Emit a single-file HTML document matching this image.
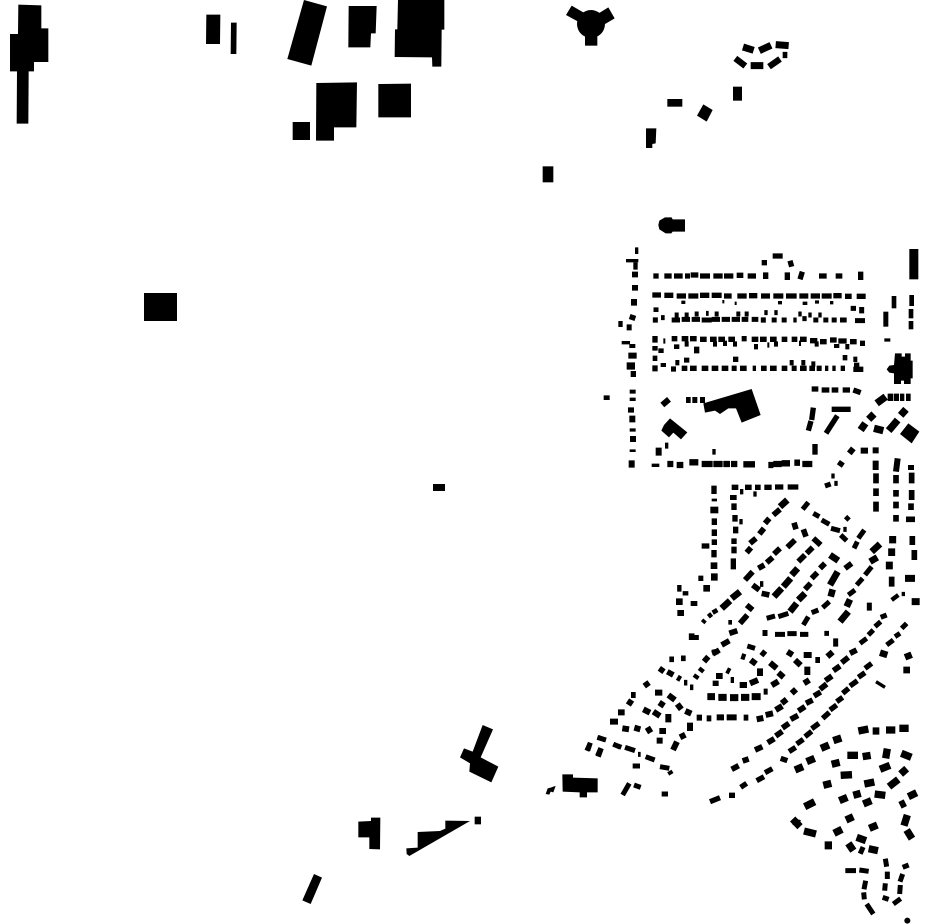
<!DOCTYPE html>
<html><head><meta charset="utf-8"><title>Figure-ground plan</title>
<style>html,body{margin:0;padding:0;background:#fff}svg{display:block}path{fill:none;stroke:#000}polygon,circle,rect{fill:#000;stroke:none}</style>
</head><body>
<svg width="930" height="924" viewBox="0 0 930 924" xmlns="http://www.w3.org/2000/svg">
<rect x="144" y="293" width="33" height="28"/><rect x="433" y="484" width="12" height="7"/>
<g transform="scale(.33333)">
<polygon points="55,14 124,16 124,85 145,85 145,186 102,186 102,214 86,214 85,371 50,371 51,214 30,214 30,102 54,102"/>
<polygon points="619,44 661,44 660,132 618,132"/><polygon points="693,68 710,68 709,162 692,162"/>
<polygon points="912,0 981,19 934,197 862,177"/>
<polygon points="1046,18 1130,18 1127,100 1113,100 1111,142 1045,142"/>
<polygon points="1194,0 1333,0 1333,89 1325,89 1324,200 1297,200 1296,172 1184,171 1185,88 1192,88"/>
<polygon points="949,249 1071,247 1069,382 1002,382 1002,422 948,422"/>
<polygon points="1135,252 1233,251 1233,352 1135,352"/><polygon points="878,366 930,366 930,420 878,420"/>
</g>
<g transform="translate(290 720) scale(.33333)">
<polygon points="578,15 609,28 572,112 625,140 604,187 538,155 540,130 510,112 522,85 548,95"/>
<polygon points="817,163 849,163 849,173 923,175 923,217 891,217 891,232 869,232 869,217 818,215"/>
<polygon points="767,222 773,205 782,203 790,200 797,198 790,217 782,215 778,224"/>
<polygon points="205,305 243,303 243,293 271,293 270,388 238,387 238,352 205,352"/>
<polygon points="349,385 383,383 383,336 450,333 466,326 466,302 540,303 358,408 350,402"/>
<polygon points="554,290 573,290 573,313 554,313"/><polygon points="72,462 96,473 62,552 37,541"/>
<path stroke-width="14" d="M890 92L900 70M925 52L945 60M970 72L990 82M922 108L932 84"/>
</g>
<g transform="translate(530 0) scale(.33333)">
<circle cx="183" cy="72" r="42"/><polygon points="125,17 165,40 150,68 108,45"/><polygon points="235,22 254,55 215,78 198,45"/><polygon points="165,100 202,100 202,137 165,137"/>
<polygon points="412,297 457,297 457,320 412,320"/><polygon points="520,313 548,330 530,365 501,347"/><polygon points="609,260 636,260 636,302 609,302"/>
<polygon points="348,385 379,385 377,430 367,432 367,444 348,444"/><polygon points="38,499 70,499 70,547 38,547"/>
<polygon points="405,652 425,652 428,658 465,658 465,695 428,695 424,700 407,700 388,688 385,675 388,662"/>
<path stroke-width="21" d="M639 141L671 151M688 152L723 136M737 134L776 137M662 197L700 197"/>
<path stroke-width="19" d="M616 175L646 198M717 200L750 177M758 165H772"/>
</g>
<g transform="translate(600 240) scale(.33333)">
<polygon points="310,490 455,447 482,525 425,548 408,505 385,505 360,522 345,512 315,518"/>
<polygon points="885,340 905,340 905,350 915,350 915,340 932,340 932,362 938,362 938,415 932,415 932,432 912,432 912,422 903,422 903,432 882,432 882,400 868,398 860,388 868,377 882,375"/>
<polygon points="210,535 262,577 243,598 220,578 207,592 184,572 192,555"/>
<polygon points="925,550 958,575 935,610 900,582"/>
<rect x="928" y="27" width="27" height="91"/><rect x="850" y="215" width="15" height="45"/><rect x="637" y="612" width="16" height="32"/>
<rect x="875" y="168" width="14" height="37"/><rect x="928" y="165" width="14" height="33"/><rect x="926" y="207" width="14" height="28"/><rect x="926" y="243" width="14" height="25"/>
<path stroke-width="10" d="M110 22V42M78 62H115M65 308H90M155 676H178M342 627V644M853 300H871M233 108H233"/>
<path stroke-width="18" d="M105 95V112M105 135V152M102 177V197M100 225L95 240M55 252H68M80 262H95M97 312V324M85 347H110M92 402H108M98 449V461M98 473V483M93 502V518M97 527V547M98 565V575M99 588V606M98 628V636M95 661V683M20 466V480M187 495L207 478M258 480H272M277 480H292M300 480H315M176 623V647M195 617H205"/>
<path stroke-width="22" d="M80 378H105M100 78H113"/>
<path stroke-width="16" d="M160 108H176M193 108H215M222 108H248M255 108H270M272 105H295M300 108H330M340 108H368M372 108H400M410 106H430M443 108H468M497 97V117M562 97V120M607 95L600 118M657 108H680M707 108H727M782 95V120M493 60V76M518 48H548M570 62L575 80"/>
<path stroke-width="16" d="M157 165H183M193 166H220M230 168H258M265 168H295M300 166H328M335 166H365M372 168H395M412 168H440M447 167H472M483 168H510M520 168H550M558 168H590M598 168H625M632 168H660M665 168H695M700 167H725M735 169H755M770 169H797"/>
<path stroke-width="10" d="M244 187H256M367 185H373M404 190H410M534 188H546M608 190H622M645 186H657M690 188H700"/>
<path stroke-width="15" d="M168 202V216M166 232V248M183 233H194M215 240H240M245 238H270M275 238H300M305 240H335M335 238H360M365 238H390M395 238H420M425 238H445M455 238H475M490 232V248M515 240H530M545 240H560M580 240H590M607 236H620M640 240H655M670 240H685M695 240H710M720 240H740M765 242H795M224 225H236M254 225H266M284 222H296M318 220H326M344 222H356M409 222H421M434 222H446M493 218H503M523 218H533M595 222H605M625 225H635M655 225H665M752 205H768M785 201V220"/>
<path stroke-width="16" d="M165 288V308M190 303H196M215 296H232M245 296H265M270 296H290M300 298H320M330 298H350M355 298H375M385 298H405M425 296H440M455 298H475M480 298H500M510 298H530M545 298H562M575 298H592M600 298H620M630 302H652M660 305H680M690 300H710M715 303H740M750 305H770M780 310H795M165 318V332M183 325V339M230 313V327M254 312H266M290 320V340M339 312H351M369 310H381M399 312H411M462 320H474M502 315H508M522 312H534M597 310H603M644 312H656M710 312V324M736 320H748"/>
<path stroke-width="16" d="M165 376V394M190 369V381M213 387H228M245 385H262M270 385H290M305 385H325M335 385H355M365 385H385M395 385H410M420 385H440M458 385H468M483 385H500M510 385H530M545 385H562M575 385H590M600 385H620M628 385H645M650 385H665M675 385H685M697 385H707M722 385H735M760 388H790M158 355H172M226 368H238M260 353V368M407 350V366M569 368H581M604 368H616M634 372H646M728 353H742M760 358H772M770 368V382"/>
<path stroke-width="16" d="M635 447H655M665 450H688M695 450H715M728 450H750M760 450L782 458M640 503L635 540M633 543L625 572M695 508H752M712 527L678 580"/>
<path stroke-width="22" d="M830 490L857 470M863 472H880M882 472H897M900 472H913M918 472H932M918 508L902 526M893 540L866 572M822 522L806 538M796 550L782 570M822 565L850 572"/>
<path stroke-width="19" d="M202 672H220M230 675H250M268 667H295M305 672H338M340 672H368M370 672H390M393 672H412M430 673H465M505 675H520M520 672H545M545 670H570M583 668H600M607 672H637"/>
<path stroke-width="18" d="M782 632H804M827 622V640M827 662V690"/>
<path stroke-width="18" d="M893 655L888 695M933 675V690M760 625L748 640M727 665L718 678"/>
</g>
<g transform="translate(670 470) scale(.33333)">
<path stroke-width="16" d="M132 47V72M133 86V94M133 145V165M133 178V198M133 208V225M132 240V262M95 228H118M85 325H100M192 100V120M195 135V155M208 155H218M197 170V190M192 205V222M192 230V250M190 265V298M185 52H205M225 52H245M255 52H272M283 52H305M315 51H340M353 51H385M210 65H220M250 72H260"/>
<path stroke-width="24" d="M133 110V130"/><path stroke-width="20" d="M132 277V297M133 310V332M110 345V365M190 75V90"/>
<path stroke-width="17" d="M230 248L243 233M240 220L258 205M268 192L282 175M285 160L298 145M310 135L330 118M265 295L283 285M290 278L308 262M312 252L330 235M352 232L375 210M372 158L378 178M400 178L408 200M430 205L452 225M225 330L248 305M248 345L268 360M270 342H280M275 370L298 375M385 275L405 255M410 250L428 232M405 358L422 340M425 325L442 308M450 295L465 280M525 295L545 280"/>
<path stroke-width="20" d="M330 110L352 90M312 380L335 355M340 350L362 325M365 315L383 295M360 425L380 400M385 390L405 370M480 255L505 272M482 380L488 358M480 345L503 305M510 455L535 425M530 410L540 388M600 275L622 262M605 245L630 222"/>
<path stroke-width="15" d="M290 445L315 438M325 440L355 430M400 465L415 440M425 428L445 420M458 413L478 395M535 375L555 360M560 345L578 325M585 315L605 290M552 235L562 215M565 205L583 180M598 398V422"/>
<path stroke-width="15" d="M398 118L415 97M430 130L448 140M455 150L478 163M483 175L510 182M512 195L530 212M520 178H530M527 150L537 140M484 18H494M465 48L482 42M493 40H503"/>
<path stroke-width="17" d="M618 10V40M618 55V78M618 95V125M678 15V40M678 60V80M678 95V115M678 135V155M725 8V40M725 60V90M723 100V120M708 148H735M727 198V225M733 240V270M665 320V350"/>
<path stroke-width="21" d="M668 198V220M665 235V258M658 275V298M705 325H735M725 395H749"/>
<path stroke-width="13" d="M665 390L685 375M695 372H705M28 345V365M38 370H55"/>
<path stroke-width="20" d="M28 385V405M32 420V438M72 393V408"/>
<path stroke-width="14" d="M98 458L105 450M115 440L125 432M128 428L142 420M175 457H186"/>
<path stroke-width="20" d="M155 415L180 392M185 385L210 365"/>
<path stroke-width="17" d="M230 405L248 420M210 460L232 435M178 490L202 482M155 525L178 512M128 552L148 540M65 490V510M78 495V510"/>
<path stroke-width="15" d="M285 480V498M315 493H345M352 491H380M390 493H415M463 490H477M497 505V530M232 528L255 535"/>
<path stroke-width="15" d="M570 520L590 505M595 495L610 480M615 470L632 455M632 442L650 435M650 525L670 510M675 500L690 490M695 475L710 460"/>
</g>
<g transform="translate(580 650) scale(.33333)">
<path stroke-width="17" d="M268 28H282M303 25H317M238 55L252 65M262 65L280 75M292 82L302 88M312 98H322M330 112H340M345 85L352 75M360 65L368 55M372 35L385 20M396 8L414 4"/>
<path stroke-width="18" d="M407 92V108M408 78H428M440 60L450 65M452 90H462M479 105H501M510 100L534 90M540 55V78M484 18L496 22M512 30L528 42M544 5L556 15M570 38L590 55M595 68L611 82M575 106L595 94M551 125H563M622 5L638 15M645 30L662 46M671 15H695M706 30H720M742 20L758 6M682 50V75M672 100L688 90"/>
<path stroke-width="21" d="M382 140H405M415 142H440M450 143H475M483 142H508M515 140H542"/>
<path stroke-width="18" d="M648 118L635 130M620 148L605 160M587 180L607 168M557 195L579 190M530 208L550 204M491 203H505M440 202H470M410 202H432M380 205H394M350 203H366M316 183L334 191M292 162L304 178M265 135L285 150M225 128L247 128M240 170L250 155M195 96L205 110M153 135L167 135M145 165L155 150M114 187H134M90 215H114M127 235L147 238M163 233L181 238M202 232L212 248M238 243H258M230 272H248M265 192V217M190 178L210 188M220 185L240 198M330 218V243M300 262L316 254M291 275L279 300"/>
<path stroke-width="15" d="M52 262L78 270M31 278L23 302M64 295L55 320M100 283L124 292M135 292L165 302M174 313H182M197 320L224 330M158 348H180M240 350L268 355M268 363L274 373M148 400L128 435M162 405L182 412M245 432H264"/>
<path stroke-width="17" d="M455 358L476 347M488 333L506 327M525 300L547 290M563 278L583 266M587 258L607 244M607 234L627 220M632 208L654 196M655 183L675 170M678 160L698 150M702 138L722 126M736 92L756 78M760 62L780 48M785 38L805 22M810 10L830 0M720 118L740 102"/>
<path stroke-width="16" d="M390 455L420 443M447 436H465M482 412L500 400M530 392L552 380M555 368L577 356M602 325L622 332M627 305L647 292M650 282L670 268M675 260L695 244M695 236L717 220M728 205L748 187M750 180L770 165M770 155L788 142M788 130L806 115M810 108L832 92M835 82L855 68M855 55L875 40"/>
<path stroke-width="10" d="M888 95L915 112"/>
<path stroke-width="20" d="M900 8L922 15M975 22L995 14M980 50V70M640 515L660 520"/>
<path stroke-width="22" d="M835 243L865 237M878 243H898M918 240H946M958 235H986M645 360L669 350M680 335L704 325M723 295L747 285M760 272L784 264M755 343L779 337M802 316H834M848 320L872 316M922 296L917 325M964 310L994 322M900 358L930 346M962 372L980 356M927 410L955 388M853 402L883 396M782 376L816 374M730 406L754 400M884 432L916 436M820 436L842 430M778 452L802 442M850 462L874 452M674 470L704 455M985 440L1010 428M960 466L976 458M982 495L972 527M980 540L996 566M638 507L660 530M672 543L708 552M798 510L820 500M762 550L786 538M868 535L892 525M830 562L858 572M745 574V598M805 580L820 602M838 598L852 604M866 596L894 602"/>
<path stroke-width="15" d="M916 626L920 650M922 665V687M916 700L914 722M908 742L926 748M940 762L962 746M961 705L959 732M968 672L960 695M968 652L986 645M796 662H828M838 660L866 664M857 692L852 718M851 727L853 748M860 762L880 792"/>
<circle cx="982" cy="812" r="9"/>
</g>
</svg>
</body></html>
